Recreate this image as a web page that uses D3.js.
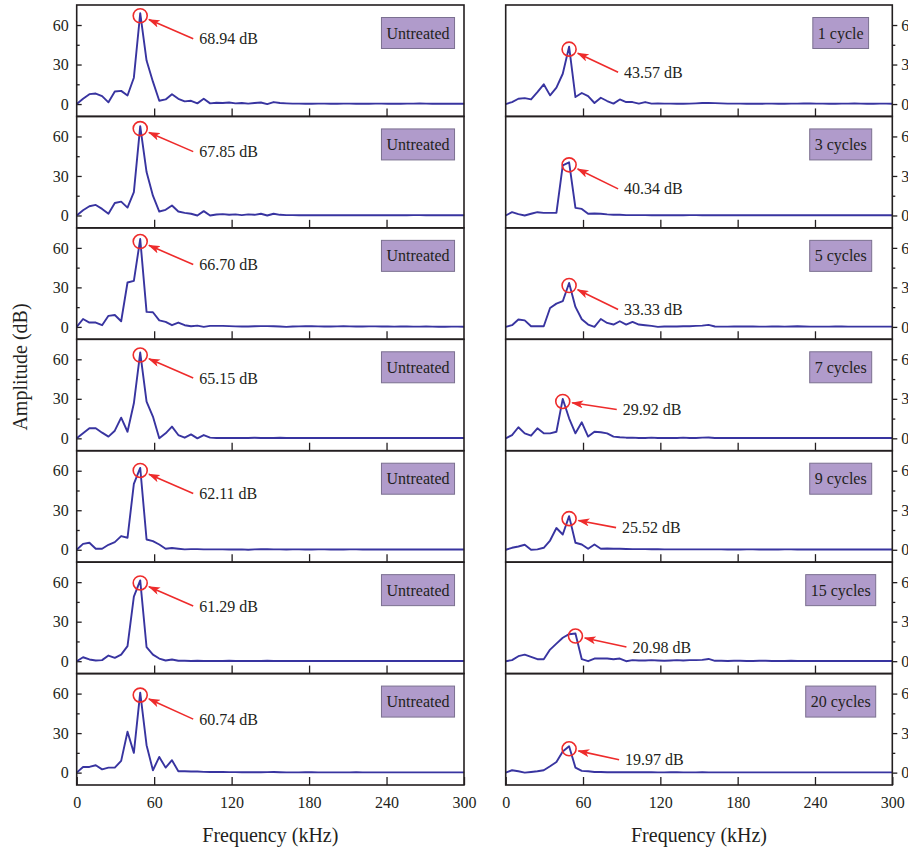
<!DOCTYPE html>
<html>
<head>
<meta charset="utf-8">
<script src="https://cdn.jsdelivr.net/npm/d3@7"></script>
<style>
body { margin: 0; background: #fff; }
text { font-family: "Liberation Serif", "Times New Roman", serif; fill: #231f20; }
</style>
</head>
<body>
<div id="chart"></div>
<script>
// Variables
var width = 908,
	height = 852;

var binWidth = 4.92; // kHz per FFT bin

// Untreated spectra (left column), one value per bin
var untreated1 = [0, 4, 7.5, 8, 6, 1.3, 9.5, 10, 6.5, 20, 68.94, 33, 17, 2.5, 3.5, 7.5, 4, 2, 2.5, 0.5, 4, 0.5,
	1, 0.8, 1.2, 0.5, 0.8, 0.3, 0.8, 1.2, 0, 1.5, 0.8, 0.5, 0.3, 0.3, 0.2, 0.2, 0.3, 0.3, 0.2, 0.2,
	0.3, 0.3, 0.2, 0.2, 0.2, 0.3, 0.3, 0.2, 0.2, 0.2, 0.3, 0.3, 0.4, 0.3, 0.2, 0.2, 0.2, 0.2, 0.2, 0.2];
var untreated2 = [0, 4, 7, 8, 5, 1.3, 9.5, 10.5, 6, 17.7, 67.85, 33, 15, 3, 4.3, 7.6, 3, 2, 1.3, 0, 3.3, 0,
	0.7, 1, 0.5, 0.8, 0.3, 0.8, 0.5, 1.3, 0, 1.3, 0.5, 0.3, 0.3, 0.2, 0.2, 0.3, 0.2, 0.2, 0.3, 0.2,
	0.2, 0.2, 0.3, 0.2, 0.2, 0.2, 0.2, 0.3, 0.2, 0.2, 0.2, 0.3, 0.3, 0.2, 0.2, 0.2, 0.2, 0.2, 0.2, 0.2];
var untreated3 = [0, 6, 3.3, 3.3, 1.3, 8.4, 9, 4.3, 33.7, 35, 66.70, 11.4, 11.1, 5, 3.8, 1.3, 3.3, 1.3, 0.5, 1, 0, 0.8,
	0.8, 0.8, 0.6, 0.4, 0.3, 0.3, 0.5, 0.6, 0.6, 0.5, 0.3, 0, 0.3, 0.4, 0.5, 0.5, 0.4, 0.3, 0.3, 0.4,
	0.5, 0.4, 0.3, 0.3, 0.4, 0.4, 0.3, 0.3, 0.2, 0.3, 0.3, 0.2, 0.2, 0.3, 0.2, 0.1, 0.1, 0.2, 0.2, 0.1];
var untreated4 = [0, 3.8, 7.6, 7.6, 4.3, 1.3, 5.8, 15.7, 5, 26.6, 65.15, 27.8, 16.5, 0, 3.8, 8.9, 2.5, 0.5, 3, 0, 2.5, 0.5,
	0.3, 0.3, 0.3, 0.2, 0.2, 0.3, 0.4, 0.3, 0.2, 0.3, 0.4, 0.3, 0.2, 0.2, 0.2, 0.3, 0.3, 0.2, 0.2, 0.2,
	0.2, 0.3, 0.2, 0.2, 0.2, 0.2, 0.2, 0.2, 0.2, 0.2, 0.2, 0.2, 0.2, 0.2, 0.2, 0.2, 0.2, 0.2, 0.2, 0.2];
var untreated5 = [0, 4.5, 5.3, 0.8, 0.8, 3.8, 5.8, 10.4, 9.1, 50, 62.11, 7.8, 6.6, 4, 0.8, 1.3, 0.8, 0.3, 0.5, 0.5, 0.3, 0.3,
	0.3, 0.3, 0.2, 0.2, 0.3, 0, 0.3, 0.5, 0.4, 0.3, 0.3, 0.2, 0.3, 0.3, 0.2, 0.2, 0.3, 0.3, 0.2, 0.2,
	0.2, 0.3, 0.3, 0.2, 0.2, 0.2, 0.2, 0.3, 0.2, 0.2, 0.2, 0.2, 0.2, 0.2, 0.2, 0.2, 0.2, 0.2, 0.2, 0.2];
var untreated6 = [0, 3, 1.3, 0.5, 0.8, 4.3, 2.5, 5, 11.4, 49, 61.29, 10.6, 5, 2, 0.5, 1.3, 0.3, 0.3, 0.2, 0.3, 0.2, 0.2,
	0.2, 0.2, 0.3, 0.2, 0.2, 0.2, 0.2, 0.2, 0.3, 0.2, 0.2, 0.2, 0.2, 0.2, 0.2, 0.2, 0.2, 0.2, 0.2, 0.2,
	0.2, 0.2, 0.2, 0.2, 0.2, 0.2, 0.2, 0.2, 0.2, 0.2, 0.2, 0.2, 0.2, 0.2, 0.2, 0.2, 0.2, 0.2, 0.2, 0.2];
var untreated7 = [0, 4.3, 4.3, 5.6, 2.5, 3.8, 3.8, 8.9, 31, 15, 60.74, 20.8, 1.8, 11.9, 3.8, 9.4, 1, 1, 0.8, 0.8, 0.6, 0.5,
	0.5, 0.5, 0.4, 0.4, 0.3, 0.3, 0.3, 0.3, 0.4, 0.5, 0.3, 0.2, 0.2, 0.2, 0.3, 0.3, 0.2, 0.2, 0.2, 0.2,
	0.2, 0.2, 0.3, 0.2, 0.2, 0.2, 0.2, 0.2, 0.2, 0.2, 0.2, 0.2, 0.2, 0.2, 0.2, 0.2, 0.2, 0.2, 0.2, 0.2];

// Treated spectra (right column)
var cycles1 = [0, 1.5, 4, 4.5, 3.5, 9, 15, 6.6, 12.4, 23, 43.57, 5.3, 8.4, 6, 0.8, 4.8, 2.3, 0.3, 3.5, 1.5, 1.5, 0.3,
	1.5, 0.3, 0.5, 0.3, 0.3, 0.2, 0.2, 0.3, 0.5, 0.8, 0.8, 0.7, 0.5, 0.3, 0.3, 0.3, 0.2, 0.2, 0.2, 0.3,
	0.3, 0.2, 0.2, 0.3, 0.3, 0.4, 0.4, 0.3, 0.3, 0.2, 0.2, 0.3, 0.3, 0.4, 0.3, 0.2, 0.2, 0.3, 0.3, 0.2];
var cycles3 = [0, 2.5, 1, 0, 1.3, 2.5, 2, 2, 2, 38, 40.34, 5.8, 5, 1.3, 1.5, 1.3, 0.8, 0.5, 0.5, 0.3, 0.3, 0.3,
	0.3, 0.2, 0.2, 0.3, 0.2, 0.2, 0.2, 0.3, 0.3, 0.2, 0.2, 0.2, 0.2, 0.2, 0.3, 0.2, 0.2, 0.2, 0.2, 0.2,
	0.2, 0.2, 0.2, 0.3, 0.2, 0.2, 0.2, 0.2, 0.2, 0.2, 0.2, 0.2, 0.2, 0.2, 0.2, 0.2, 0.2, 0.2, 0.2, 0.2];
var cycles5 = [0, 1.3, 5.6, 5, 0.5, 0.5, 0.5, 14.4, 17.7, 19.5, 33.33, 15.2, 5.8, 1.8, 0, 6, 3, 1.8, 4.3, 1.8, 3.8, 1.8,
	1.3, 0.8, 0, 0.3, 0.3, 0.3, 0.5, 0.5, 0.8, 1, 1.5, 0.3, 0.2, 0.2, 0.3, 0.3, 0.4, 0.3, 0.2, 0.2,
	0.3, 0.3, 0.2, 0.3, 0.5, 0.3, 0.2, 0.2, 0.2, 0.2, 0.3, 0.3, 0.2, 0.2, 0.2, 0.2, 0.2, 0.2, 0.2, 0.2];
var cycles7 = [0, 2.5, 8.4, 3.8, 2, 7.6, 3.8, 3.8, 5, 29.92, 15.2, 3.8, 12.2, 1.3, 5, 4.6, 3.8, 1.3, 0.8, 0.5, 0.5, 0.3,
	0.3, 0.5, 0.3, 0.2, 0.2, 0.3, 0.5, 0.3, 0.2, 0.5, 0.6, 0.3, 0.2, 0.2, 0.3, 0.3, 0.2, 0.2, 0.2, 0.3,
	0.2, 0.2, 0.2, 0.2, 0.2, 0.3, 0.2, 0.2, 0.2, 0.2, 0.2, 0.2, 0.2, 0.2, 0.2, 0.2, 0.2, 0.2, 0.2, 0.2];
var cycles9 = [0, 1.5, 2.5, 3.8, 0, 0.3, 1.5, 7, 16.5, 11.6, 25.52, 5.3, 4, 0.8, 4, 0.8, 1, 0.8, 0.8, 0.6, 0.5, 0.5,
	0.5, 0.4, 0.4, 0.3, 0.3, 0.3, 0.3, 0.3, 0.3, 0.3, 0.3, 0.3, 0.3, 0.2, 0.2, 0.2, 0.3, 0.3, 0.2, 0.2,
	0.2, 0.2, 0.3, 0.3, 0.2, 0.2, 0.2, 0.2, 0.2, 0.2, 0.2, 0.2, 0.2, 0.2, 0.2, 0.2, 0.2, 0.2, 0.2, 0.2];
var cycles15 = [0, 0.8, 3.8, 5, 3.3, 1.5, 1.5, 8.8, 13.3, 17.8, 20.5, 20.98, 1.5, 0, 2, 2, 2, 1.5, 2, 0, 0.8, 0.5,
	0.5, 0.8, 0.5, 0.3, 0.5, 0.8, 0.5, 0.8, 0.8, 1, 1.7, 0.3, 0.3, 0.2, 0.3, 0.3, 0.2, 0.2, 0.3, 0.3,
	0.2, 0.2, 0.2, 0.3, 0.2, 0.2, 0.2, 0.2, 0.2, 0.2, 0.2, 0.2, 0.2, 0.2, 0.2, 0.2, 0.2, 0.2, 0.2, 0.2];
var cycles20 = [0, 1.8, 1, 0, 0.5, 1, 1.8, 4.8, 8, 16, 19.97, 3.8, 1.3, 1, 0.5, 0.5, 0.3, 0.3, 0.3, 0.3, 0.3, 0.3,
	0.3, 0.3, 0.2, 0.2, 0.3, 0.3, 0.2, 0.2, 0.2, 0.3, 0.2, 0.2, 0.2, 0.2, 0.2, 0.2, 0.2, 0.2, 0.2, 0.2,
	0.2, 0.2, 0.2, 0.2, 0.2, 0.2, 0.2, 0.2, 0.2, 0.2, 0.2, 0.2, 0.2, 0.2, 0.2, 0.2, 0.2, 0.2, 0.2, 0.2];

var leftSeries = [untreated1, untreated2, untreated3, untreated4, untreated5, untreated6, untreated7];
var rightSeries = [cycles1, cycles3, cycles5, cycles7, cycles9, cycles15, cycles20];
var leftNames = ["Untreated", "Untreated", "Untreated", "Untreated", "Untreated", "Untreated", "Untreated"];
var rightNames = ["1 cycle", "3 cycles", "5 cycles", "7 cycles", "9 cycles", "15 cycles", "20 cycles"];
var leftPeaks = ["68.94", "67.85", "66.70", "65.15", "62.11", "61.29", "60.74"];
var rightPeaks = ["43.57", "40.34", "33.33", "29.92", "25.52", "20.98", "19.97"];
var xTicks = [0, 60, 120, 180, 240, 300];
var yMajor = [0, 30, 60],
	yMinor = [15, 45];

// layout of the annotation text relative to the red circle
var leftDx = [59, 59, 59, 59, 59, 59, 59],
	leftDy = [23, 23, 23, 23, 23, 23, 24],
	rightDx = [55, 55, 55, 60, 53, 57, 56],
	rightDy = [23, 24, 24, 8, 9, 11, 11];

var plotTop = 5, plotBottom = 785, nRows = 7;
var panelH = (plotBottom - plotTop) / nRows;

var cols = [
	{ x0: 76.7, x1: 464, side: "left", series: leftSeries, names: leftNames, peaks: leftPeaks, dx: leftDx, dy: leftDy, boxOff: 46 },
	{ x0: 505.7, x1: 892.3, side: "right", series: rightSeries, names: rightNames, peaks: rightPeaks, dx: rightDx, dy: rightDy, boxOff: 51.6 }
];

var lineColor = "#3834a0",
	red = "#ee2b2b",
	frameColor = "#231f20";

var svg = d3.select("#chart").append("svg")
	.attr("width", width)
	.attr("height", height);

svg.append("defs").append("marker")
	.attr("id", "arrow")
	.attr("markerUnits", "userSpaceOnUse")
	.attr("viewBox", "0 0 12 8")
	.attr("markerWidth", 12)
	.attr("markerHeight", 8)
	.attr("refX", 11)
	.attr("refY", 4)
	.attr("orient", "auto")
  .append("path")
	.attr("d", "M0,0 L12,4 L0,8 L3,4 Z")
	.attr("fill", red);

cols.forEach(function(col) {
	var x = d3.scaleLinear().domain([0, 300]).range([col.x0, col.x1]);

	col.series.forEach(function(values, r) {
		var top = plotTop + r * panelH,
			bottom = top + panelH;
		var y = d3.scaleLinear().domain([-9.4, 75.2]).range([bottom, top]);
		var g = svg.append("g").attr("class", "panel");

		// y ticks: inward on the left column, outward on the right column
		var yAxis, yMinorAxis, yPos;
		if (col.side === "left") {
			yAxis = d3.axisLeft(y).tickValues(yMajor).tickSize(-5).tickPadding(8);
			yMinorAxis = d3.axisLeft(y).tickValues(yMinor).tickSize(-3).tickFormat("");
			yPos = col.x0;
		} else {
			yAxis = d3.axisRight(y).tickValues(yMajor).tickSize(5).tickPadding(4);
			yMinorAxis = d3.axisRight(y).tickValues(yMinor).tickSize(3).tickFormat("");
			yPos = col.x1;
		}
		[yAxis, yMinorAxis].forEach(function(ax) {
			var a = g.append("g")
				.attr("transform", "translate(" + yPos + ",0)")
				.call(ax);
			a.select(".domain").remove();
			a.selectAll("line").attr("stroke", frameColor).attr("stroke-width", 1.3);
			a.selectAll("text").attr("font-size", 16).attr("fill", frameColor)
				.style("font-family", "'Liberation Serif', serif");
		});

		// x ticks, pointing up into each panel
		var last = r === nRows - 1;
		var xAxis = d3.axisBottom(x)
			.tickValues(last ? xTicks : xTicks.slice(1, -1))
			.tickSize(-8)
			.tickPadding(12)
			.tickFormat(last ? d3.format("d") : "");
		var xa = g.append("g")
			.attr("transform", "translate(0," + bottom + ")")
			.call(xAxis);
		xa.select(".domain").remove();
		xa.selectAll("line").attr("stroke", frameColor).attr("stroke-width", 1.3);
		xa.selectAll("text").attr("font-size", 16).attr("fill", frameColor)
			.style("font-family", "'Liberation Serif', serif");

		// spectrum line
		var line = d3.line()
			.x(function(d, i) { return x(i * binWidth); })
			.y(function(d) { return y(d); });
		g.append("path")
			.datum(values)
			.attr("d", line)
			.attr("fill", "none")
			.attr("stroke", lineColor)
			.attr("stroke-width", 1.9)
			.attr("stroke-linejoin", "round");

		// frame
		g.append("rect")
			.attr("x", col.x0)
			.attr("y", top)
			.attr("width", col.x1 - col.x0)
			.attr("height", panelH)
			.attr("fill", "none")
			.attr("stroke", frameColor)
			.attr("stroke-width", 1.6);

		// peak annotation
		var iMax = d3.maxIndex(values);
		var cx = x(iMax * binWidth),
			cy = y(values[iMax]) + 2.5,
			rad = 7;
		g.append("circle")
			.attr("cx", cx)
			.attr("cy", cy)
			.attr("r", rad)
			.attr("fill", "none")
			.attr("stroke", red)
			.attr("stroke-width", 1.6);

		var tx = cx + col.dx[r],
			ty = cy + col.dy[r];
		var ax0 = tx - 6, ay0 = ty;
		var vx = cx - ax0, vy = cy - ay0,
			len = Math.sqrt(vx * vx + vy * vy);
		var tipX = cx - vx / len * (rad + 2.5),
			tipY = cy - vy / len * (rad + 2.5);
		g.append("line")
			.attr("x1", ax0)
			.attr("y1", ay0)
			.attr("x2", tipX)
			.attr("y2", tipY)
			.attr("stroke", red)
			.attr("stroke-width", 1.6)
			.attr("marker-end", "url(#arrow)");
		g.append("text")
			.attr("x", tx)
			.attr("y", ty)
			.attr("dy", "0.35em")
			.attr("font-size", 16)
			.text(col.peaks[r] + " dB");

		// label box
		var bcx = col.x1 - col.boxOff,
			bcy = top + 28;
		var label = g.append("text")
			.attr("x", bcx)
			.attr("y", bcy)
			.attr("dy", "0.35em")
			.attr("text-anchor", "middle")
			.attr("font-size", 16)
			.text(col.names[r]);
		var tw = label.node().getComputedTextLength() + 10;
		g.insert("rect", function() { return label.node(); })
			.attr("x", bcx - tw / 2)
			.attr("y", bcy - 15.5)
			.attr("width", tw)
			.attr("height", 31)
			.attr("fill", "#b09bcb")
			.attr("stroke", "#7b7090")
			.attr("stroke-width", 1);
	});

	// x axis title
	svg.append("text")
		.attr("x", (col.x0 + col.x1) / 2)
		.attr("y", 842)
		.attr("text-anchor", "middle")
		.attr("font-size", 20)
		.text("Frequency (kHz)");
});

// y axis title
svg.append("text")
	.attr("transform", "translate(27,367) rotate(-90)")
	.attr("text-anchor", "middle")
	.attr("font-size", 20)
	.text("Amplitude (dB)");
</script>
</body>
</html>
